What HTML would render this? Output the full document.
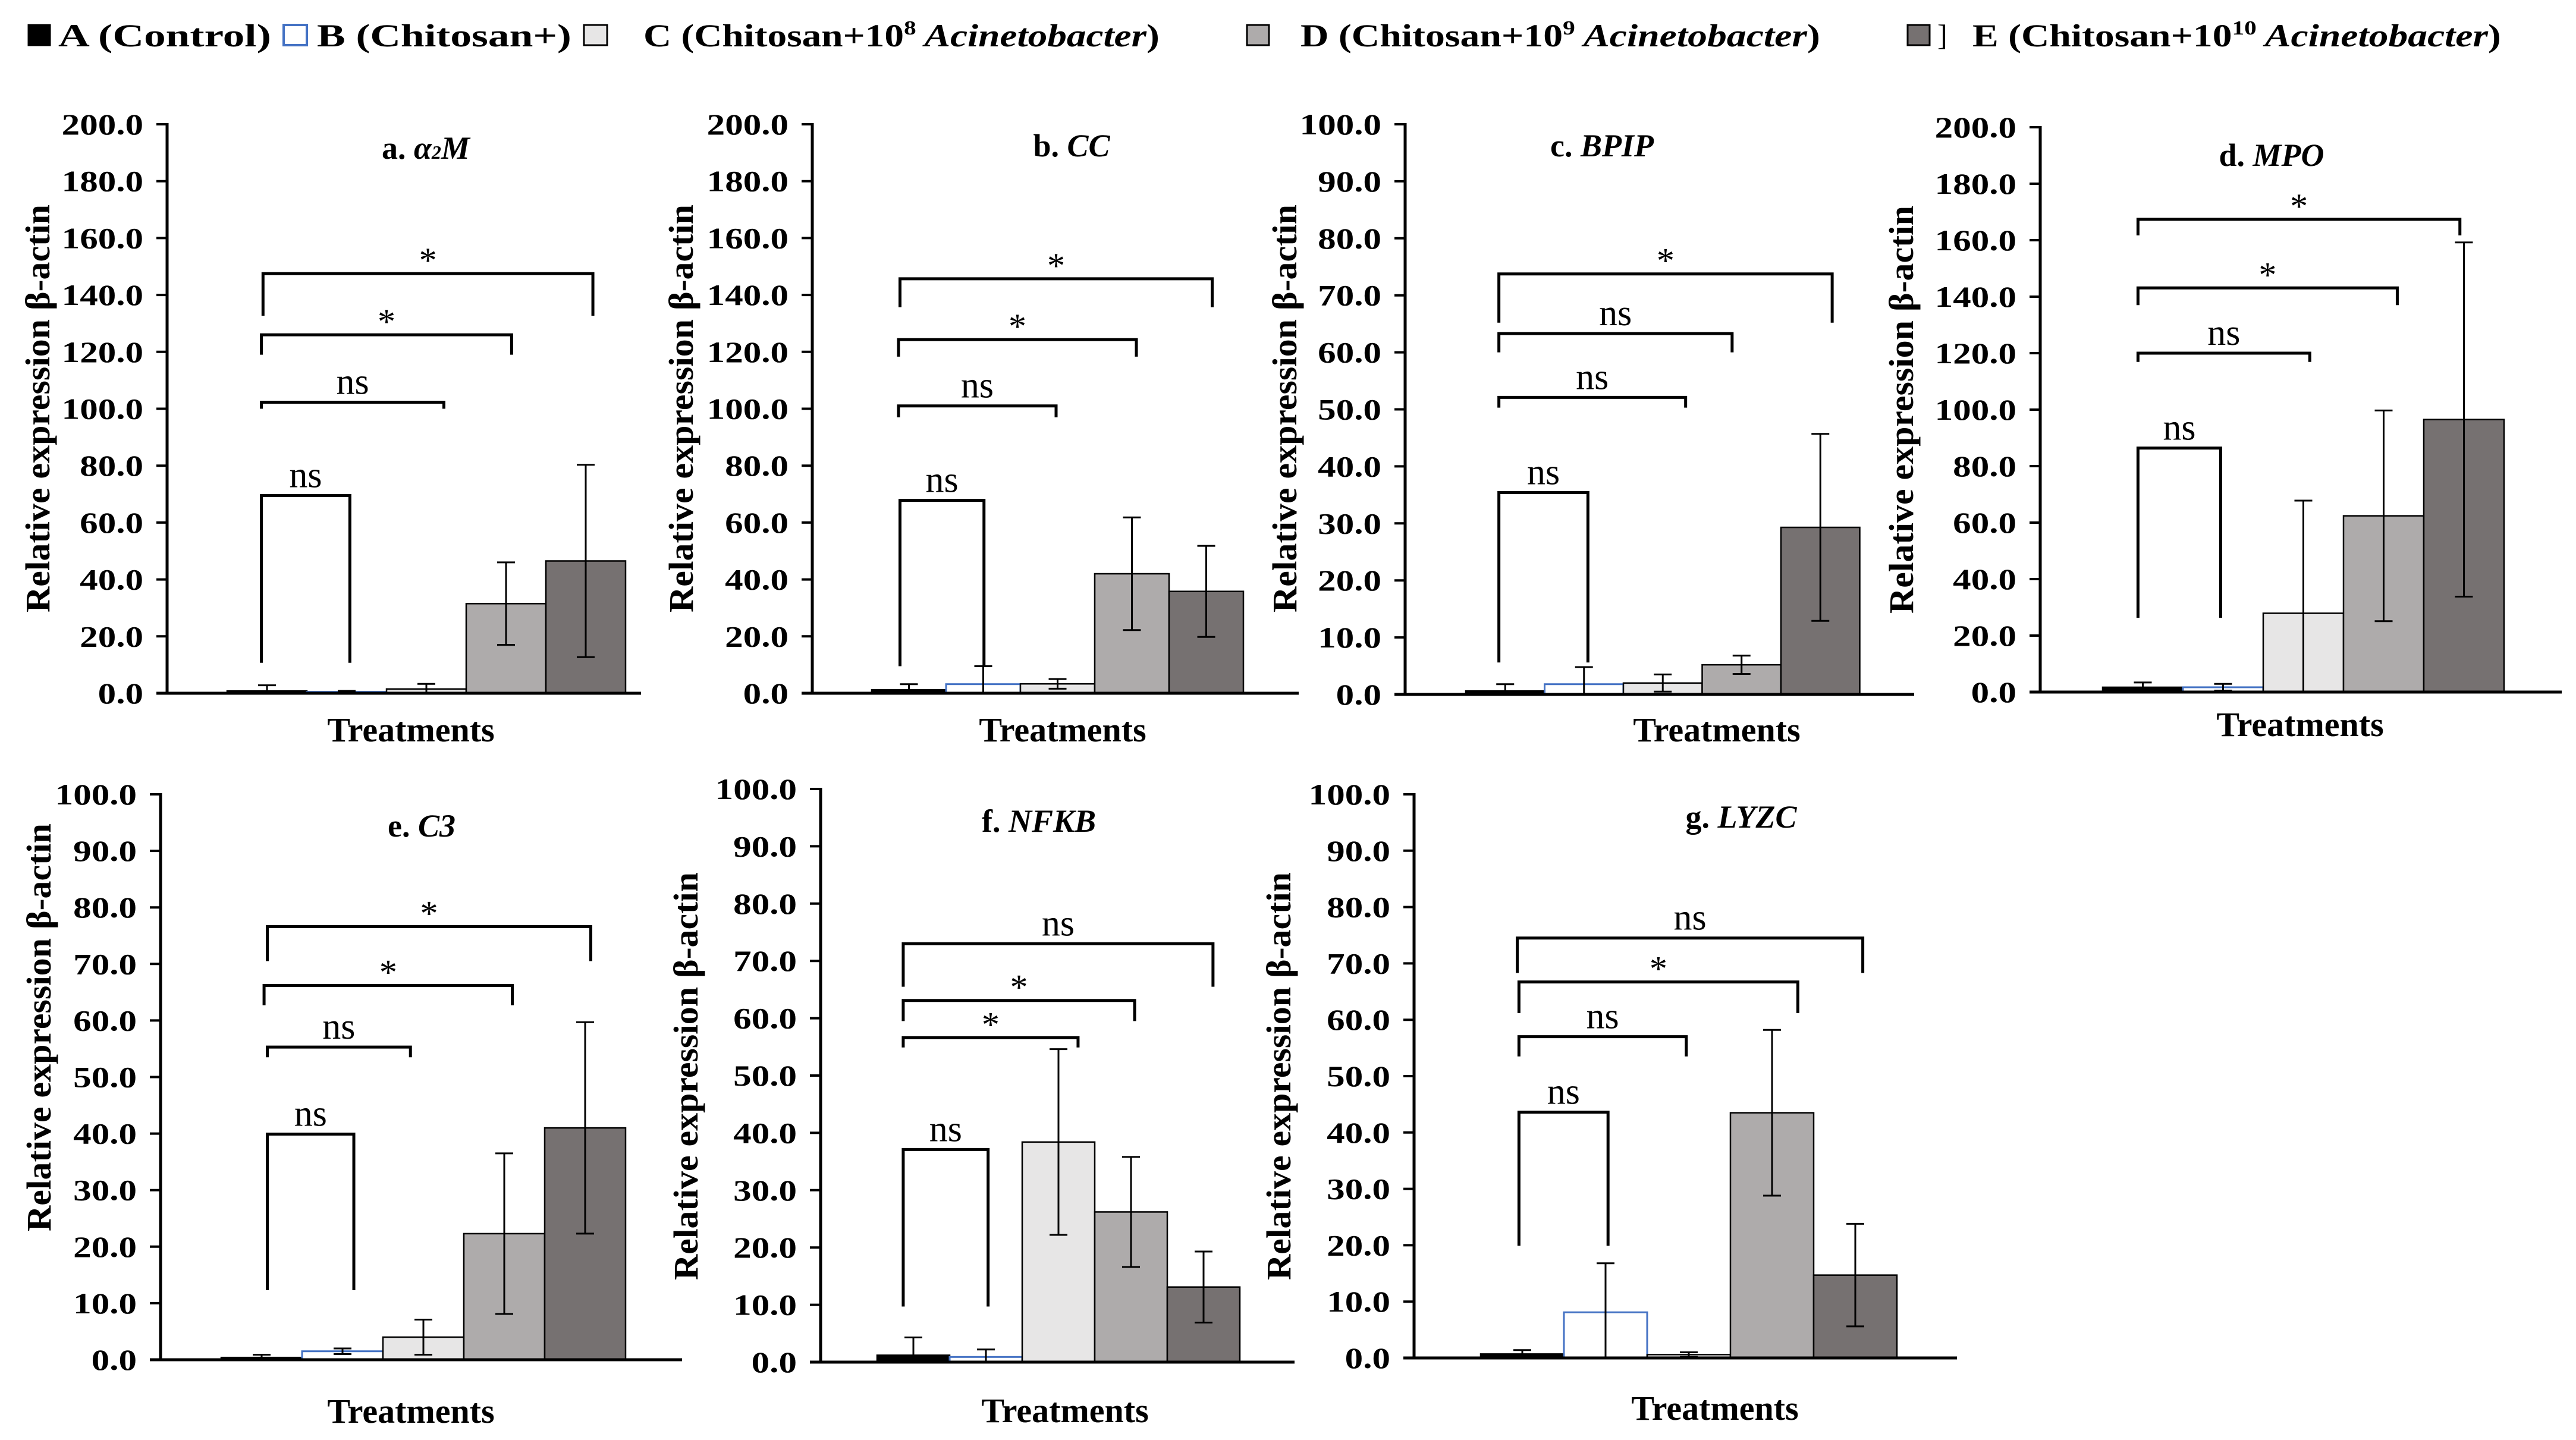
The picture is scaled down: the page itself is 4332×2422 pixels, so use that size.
<!DOCTYPE html>
<html><head><meta charset="utf-8"><style>
html,body{margin:0;padding:0;background:#fff;}
svg{display:block;font-family:"Liberation Serif",serif;}
</style></head><body>
<svg id="fig" xmlns="http://www.w3.org/2000/svg" width="4332" height="2422" viewBox="0 0 4332 2422">
<rect x="0" y="0" width="4332" height="2422" fill="#fff"/>
<g id="legend"></g>
<g id="panels"></g>
</svg>
<script>
// ---- data ----
const categories = ['A', 'B', 'C', 'D', 'E'];
const seriesNames = ['A (Control)', 'B (Chitosan+)', 'C (Chitosan+10^8 Acinetobacter)', 'D (Chitosan+10^9 Acinetobacter)', 'E (Chitosan+10^10 Acinetobacter)'];
const panelLabels = ['a', 'b', 'c', 'd', 'e', 'f', 'g'];
const geneNames = ['α2M', 'CC', 'BPIP', 'MPO', 'C3', 'NFKB', 'LYZC'];
const axisMax = [200, 200, 100, 200, 100, 100, 100];
const tickStep = [20, 20, 10, 20, 10, 10, 10];

const meansA = [0.8, 0.5, 1.5, 31.5, 46.5];
const errsA  = [2.0, 0.3, 1.8, 14.5, 33.8];
const meansB = [1.2, 3.2, 3.3, 42.0, 35.8];
const errsB  = [2.0, 6.3, 1.7, 19.8, 16.0];
const meansC = [0.6, 1.8, 2.0, 5.2, 29.3];
const errsC  = [1.2, 3.0, 1.5, 1.6, 16.4];
const meansD = [1.7, 1.7, 27.9, 62.4, 96.5];
const errsD  = [1.7, 1.2, 39.9, 37.3, 62.7];
const meansE = [0.4, 1.5, 4.0, 22.3, 41.0];
const errsE  = [0.5, 0.5, 3.1, 14.2, 18.7];
const meansF = [1.2, 0.9, 38.4, 26.2, 13.1];
const errsF  = [3.1, 1.3, 16.2, 9.6, 6.2];
const meansG = [0.7, 8.1, 0.6, 43.5, 14.7];
const errsG  = [0.7, 8.7, 0.4, 14.7, 9.1];

// brackets: [fromIndex, toIndex, topValue, bottomValue, label]
const bracketsA = [[0.43,1.54,69.5,10.7,'ns'],[0.43,2.72,102.3,100,'ns'],[0.43,3.57,126,119,'*'],[0.45,4.59,147.5,132.7,'*']];
const bracketsB = [[0.38,1.51,67.8,9.5,'ns'],[0.36,2.48,101,97,'ns'],[0.36,3.56,124.3,118.3,'*'],[0.38,4.58,145.7,135.7,'*']];
const bracketsC = [[0.42,1.55,35.4,5.6,'ns'],[0.42,2.79,52.1,50.3,'ns'],[0.42,3.38,63.3,60,'ns'],[0.42,4.65,73.75,65.2,'*']];
const bracketsD = [[0.44,1.47,86.4,26.3,'ns'],[0.44,2.58,120,116.9,'ns'],[0.44,3.67,143.1,137,'*'],[0.44,4.45,167.4,161.7,'*']];
const bracketsE = [[0.57,1.64,39.9,12.3,'ns'],[0.57,2.34,55.3,53.5,'ns'],[0.53,3.6,66.2,62.7,'*'],[0.57,4.57,76.6,70.5,'*']];
const bracketsF = [[0.36,1.53,37.1,9.7,'ns'],[0.36,2.77,56.6,54.9,'*'],[0.36,3.55,63.1,59.5,'*'],[0.36,4.63,73,65.5,'ns']];
const bracketsG = [[0.46,1.53,43.6,19.9,'ns'],[0.46,2.47,57,53.5,'ns'],[0.46,3.81,66.7,61.2,'*'],[0.44,4.59,74.5,68.3,'ns']];

// ---- layout (pixels, not data) ----
const layouts = [
 {ax:281, top:209, zero:1166, bs:382, bw:134, end:1078, tx:716, ty:267, ytx:63, yty:687, trx:691, try_:1247},
 {ax:1366, top:209, zero:1166, bs:1466, bw:125, end:2184, tx:1802, ty:263, ytx:1145, yty:687, trx:1787, try_:1247},
 {ax:2363, top:209, zero:1168, bs:2465, bw:132.5, end:3219, tx:2694, ty:263, ytx:2160, yty:687, trx:2887, try_:1247},
 {ax:3431, top:214, zero:1164, bs:3536, bw:135, end:4308, tx:3820, ty:279, ytx:3197, yty:689, trx:3868, try_:1238},
 {ax:270, top:1336, zero:2287, bs:372, bw:136, end:1147, tx:709, ty:1407, ytx:65, yty:1728, trx:691, try_:2393},
 {ax:1380, top:1327, zero:2291, bs:1475, bw:122, end:2177, tx:1747, ty:1399, ytx:1153, yty:1810, trx:1791, try_:2392},
 {ax:2378, top:1336, zero:2284, bs:2490, bw:140, end:3291, tx:2928, ty:1392, ytx:2150, yty:1810, trx:2884, try_:2388}
];
const fills = ['#000000', '#ffffff', '#e7e6e6', '#aeabab', '#767171'];
const strokes = ['#000000', '#4472c4', '#000000', '#000000', '#000000'];

const NS = 'http://www.w3.org/2000/svg';
function mk(tag, attrs, parent) {
  const e = document.createElementNS(NS, tag);
  for (const k in attrs) e.setAttribute(k, attrs[k]);
  parent.appendChild(e);
  return e;
}

const allMeans = [meansA, meansB, meansC, meansD, meansE, meansF, meansG];
const allErrs = [errsA, errsB, errsC, errsD, errsE, errsF, errsG];
const allBrackets = [bracketsA, bracketsB, bracketsC, bracketsD, bracketsE, bracketsF, bracketsG];
const panelsG = document.getElementById('panels');

allMeans.forEach((means, p) => {
  const L = layouts[p];
  const max = axisMax[p];
  const g = mk('g', {}, panelsG);
  
  
  const yS = v => L.zero - (v / max) * (L.zero - L.top);
  const xS = i => L.bs + i * L.bw;

  // ticks + labels
  for (let v = 0; v <= max + 1e-9; v += tickStep[p]) {
    const y = yS(v);
    const t = mk('line', {x1: L.ax - 18, x2: L.ax, y1: y, y2: y, stroke: '#000', 'stroke-width': 4}, g);
    
    
    const s = v.toFixed(1);
    const nat = (s.length - 1) * 0.5 * 50 + 0.25 * 50;
    const lb = mk('text', {x: L.ax - 40, y: y + 17, 'text-anchor': 'end', 'font-size': 50, 'font-weight': 'bold', textLength: (nat * 1.22).toFixed(1), lengthAdjust: 'spacingAndGlyphs'}, g);
    lb.textContent = s;
    
    
  }

  // bars
  means.forEach((m, i) => {
    const y = yS(m);
    const r = mk('rect', {x: xS(i), y: y, width: L.bw, height: Math.max(L.zero - y, 1), fill: fills[i], stroke: strokes[i], 'stroke-width': i === 1 ? 3 : 2.5}, g);
    
    
  });
  // error bars
  means.forEach((m, i) => {
    const e = allErrs[p][i];
    const cx = xS(i) + L.bw / 2;
    const yHi = yS(m + e), yLo = yS(Math.max(0, m - e));
    const eg = mk('g', {stroke: '#000', 'stroke-width': 3, fill: 'none'}, g);
    
    
    mk('line', {x1: cx, x2: cx, y1: yHi, y2: yLo}, eg);
    mk('line', {x1: cx - 15, x2: cx + 15, y1: yHi, y2: yHi}, eg);
    if (m - e > 0) mk('line', {x1: cx - 15, x2: cx + 15, y1: yLo, y2: yLo}, eg);
  });

  // axes
  const ya = mk('line', {x1: L.ax, x2: L.ax, y1: L.top - 2, y2: L.zero, stroke: '#000', 'stroke-width': 5}, g);
  
  
  const xa = mk('line', {x1: L.ax - 18, x2: L.end, y1: L.zero, y2: L.zero, stroke: '#000', 'stroke-width': 5}, g);
  
  

  // brackets
  allBrackets[p].forEach(b => {
    const x1 = xS(b[0]), x2 = xS(b[1]), yt = yS(b[2]), yb = yS(b[3]);
    const bg = mk('g', {}, g);
    
    
    mk('path', {d: `M${x1},${yb} L${x1},${yt} L${x2},${yt} L${x2},${yb}`, fill: 'none', stroke: '#000', 'stroke-width': 5}, bg);
    const lt = mk('text', {x: (x1 + x2) / 2, y: yt - (b[4] === '*' ? 2 : 14), 'text-anchor': 'middle', 'font-size': b[4] === '*' ? 60 : 62}, bg);
    lt.textContent = b[4];
  });

  // title
  const tt = mk('text', {x: L.tx, y: L.ty, 'text-anchor': 'middle', 'font-size': 54, 'font-weight': 'bold'}, g);
  
  
  const t1 = mk('tspan', {}, tt); t1.textContent = panelLabels[p] + '. ';
  if (geneNames[p] === 'α2M') {
    const t2 = mk('tspan', {'font-style': 'italic'}, tt); t2.textContent = 'α';
    const t3 = mk('tspan', {'font-style': 'italic', 'font-size': 32}, tt); t3.textContent = '2';
    const t4 = mk('tspan', {'font-style': 'italic'}, tt); t4.textContent = 'M';
  } else {
    const t2 = mk('tspan', {'font-style': 'italic'}, tt); t2.textContent = geneNames[p];
  }

  // y title
  const yt = mk('text', {x: 0, y: 0, transform: `translate(${L.ytx + 20},${L.yty}) rotate(-90)`, 'text-anchor': 'middle', 'font-size': 58, 'font-weight': 'bold', textLength: 686, lengthAdjust: 'spacingAndGlyphs'}, g);
  yt.textContent = 'Relative expression β-actin';
  
  

  // x title
  const xt = mk('text', {x: L.trx, y: L.try_, 'text-anchor': 'middle', 'font-size': 58, 'font-weight': 'bold'}, g);
  xt.textContent = 'Treatments';
  
  
});

// ---- legend ----
const lg = document.getElementById('legend');
const legendSquares = [[48, 84], [477, 516], [982, 1021], [2097, 2134], [3208, 3245]];
const legendTexts = [[98, 456], [533, 961], [1082, 1950], [2187, 3061], [3317, 4206]];
function fitText(el, x0, target) {
  const w = el.getComputedTextLength();
  if (w > 0) el.setAttribute('transform', `translate(${x0},0) scale(${target / w},1) translate(${-x0},0)`);
}
seriesNames.forEach((name, i) => {
  const sq = legendSquares[i];
  const r = mk('rect', {x: sq[0], y: 42, width: sq[1] - sq[0], height: 34, fill: fills[i], stroke: strokes[i], 'stroke-width': i === 1 ? 4 : 3}, lg);
  
  
  const tx = legendTexts[i];
  const t = mk('text', {x: tx[0], y: 78, 'font-size': 54, 'font-weight': 'bold'}, lg);
  
  
  const m = name.match(/^(.*\+10)\^(\d+) (Acinetobacter)\)$/);
  if (m) {
    const a = mk('tspan', {}, t); a.textContent = m[1];
    const b = mk('tspan', {'font-size': 34, dy: -20}, t); b.textContent = m[2];
    const c = mk('tspan', {'font-style': 'italic', dy: 20}, t); c.textContent = ' ' + m[3];
    const d = mk('tspan', {}, t); d.textContent = ')';
  } else {
    t.textContent = name;
  }
  fitText(t, tx[0], tx[1] - tx[0]);
});
const br = mk('text', {x: 3258, y: 76, 'font-size': 50}, lg);
br.textContent = ']';


</script>
</body></html>
